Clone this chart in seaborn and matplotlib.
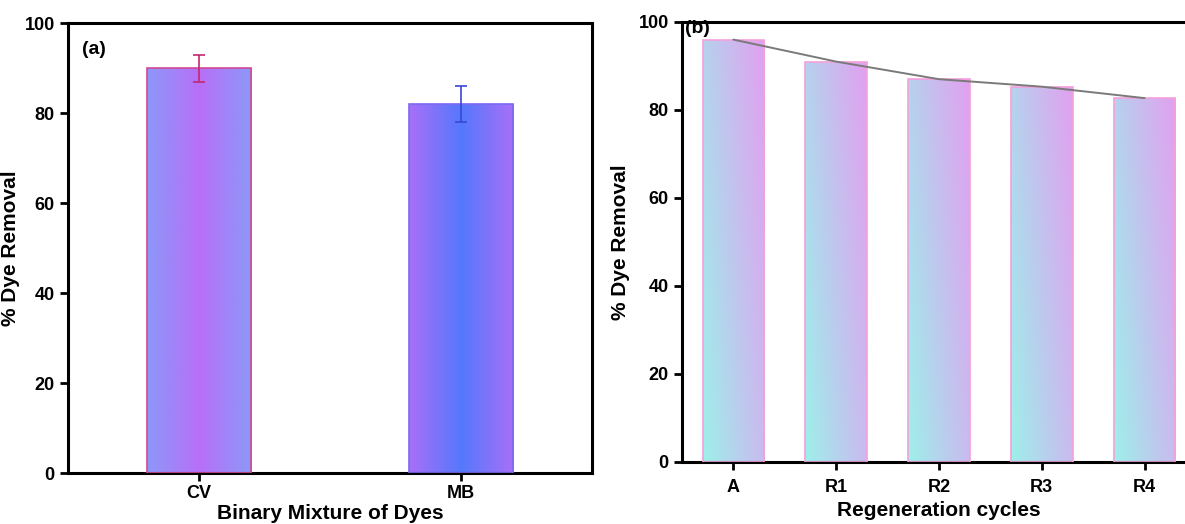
import numpy as np
import matplotlib
matplotlib.use('Agg')
import matplotlib.pyplot as plt
import seaborn as sns
from matplotlib.colors import LinearSegmentedColormap

# ---- data ----
dyes = ['CV', 'MB']
dye_removal = [90, 82]
dye_err = [3, 4]

cycles = ['A', 'R1', 'R2', 'R3', 'R4']
cycle_removal = [96, 91, 87, 85.3, 82.7]

y_ticks = [0, 20, 40, 60, 80, 100]

sns.set_theme(style='white')
plt.rcParams['font.family'] = ['Liberation Sans', 'DejaVu Sans']
plt.rcParams['font.weight'] = 'bold'
plt.rcParams['axes.labelweight'] = 'bold'
plt.rcParams['text.color'] = 'black'
plt.rcParams['axes.labelcolor'] = 'black'

W, H = 1185, 524
fig = plt.figure(figsize=(W / 100, H / 100), dpi=100)
ax1 = fig.add_axes([68 / W, 1 - 473 / H, (592 - 68) / W, (473 - 23) / H])
ax2 = fig.add_axes([682 / W, 1 - 462 / H, (1196 - 682) / W, (462 - 22) / H])

# ---- panel (a) ----
sns.barplot(x=dyes, y=dye_removal, ax=ax1, width=0.4, color='white',
            edgecolor='none', linewidth=1.2, errorbar=None)
a_edge = ['#d04a94', '#7a6af2']
a_cmaps = [LinearSegmentedColormap.from_list('cv', ['#8c98f8', '#b86ff8']),
           LinearSegmentedColormap.from_list('mb', ['#a870f8', '#5578fc'])]
u = np.linspace(0, 1, 256)
prof = (1 - np.abs(2 * u - 1))[None, :]
for p, cm, ec in zip(ax1.patches, a_cmaps, a_edge):
    x0, y0, w, h = p.get_x(), p.get_y(), p.get_width(), p.get_height()
    p.set_facecolor('none')
    p.set_edgecolor(ec)
    p.set_zorder(3)
    im = ax1.imshow(prof, extent=[x0, x0 + w, y0, y0 + h], origin='lower',
                    aspect='auto', cmap=cm, vmin=0, vmax=1, zorder=2,
                    interpolation='bilinear')
    im.set_clip_path(p)
err_cols = ['#c4286e', '#3a48d8']
for i, (v, e, c) in enumerate(zip(dye_removal, dye_err, err_cols)):
    ax1.errorbar(i, v, yerr=e, color=c, capsize=4, capthick=1.2, elinewidth=1.2, zorder=4)

ax1.set_xlim(-0.5, 1.5)
ax1.set_ylim(0, 100)
ax1.set_yticks(y_ticks)
ax1.set_xlabel('Binary Mixture of Dyes', fontsize=15, labelpad=1)
ax1.set_ylabel('% Dye Removal', fontsize=15, labelpad=3)
ax1.text(-0.445, 94, '(a)', fontsize=14, fontweight='bold', ha='left', va='center')
for s in ax1.spines.values():
    s.set_visible(True)
    s.set_linewidth(2.2)
    s.set_color('black')

# ---- panel (b) ----
sns.barplot(x=cycles, y=cycle_removal, ax=ax2, width=0.6, color='white',
            edgecolor='none', linewidth=1.2, errorbar=None)
b_cmap = LinearSegmentedColormap.from_list('bb', ['#9ef0ea', '#c0c6ee', '#e2a0f0'])
U, V = np.meshgrid(np.linspace(0, 1, 128), np.linspace(0, 1, 128))
grad = 0.65 * U + 0.35 * V
for p in ax2.patches:
    x0, y0, w, h = p.get_x(), p.get_y(), p.get_width(), p.get_height()
    p.set_facecolor('none')
    p.set_edgecolor('#f4a0dc')
    p.set_zorder(3)
    im = ax2.imshow(grad, extent=[x0, x0 + w, y0, y0 + h], origin='lower',
                    aspect='auto', cmap=b_cmap, vmin=0, vmax=1, zorder=2,
                    interpolation='bilinear')
    im.set_clip_path(p)
sns.lineplot(x=list(range(len(cycles))), y=cycle_removal, ax=ax2, color='#7a7a7a',
             linewidth=1.4, zorder=5)

ax2.set_xlim(-0.5, 4.5)
ax2.set_ylim(0, 100)
ax2.set_yticks(y_ticks)
ax2.set_xticks(range(len(cycles)))
ax2.set_xticklabels(cycles)
ax2.set_xlabel('Regeneration cycles', fontsize=15, labelpad=4)
ax2.set_ylabel('% Dye Removal', fontsize=15, labelpad=6)
ax2.text(-0.47, 98.5, '(b)', fontsize=14, fontweight='bold', ha='left', va='center')
for k, s in ax2.spines.items():
    s.set_visible(k != 'right')
    s.set_linewidth(2.2)
    s.set_color('black')

for ax, pad in ((ax1, 3), (ax2, 6)):
    ax.tick_params(axis='both', which='both', bottom=True, left=True, top=False, right=False,
                   direction='out', length=6, width=2, color='black',
                   labelsize=13, labelcolor='black')
    ax.tick_params(axis='x', pad=pad)
    for lab in ax.get_xticklabels() + ax.get_yticklabels():
        lab.set_fontweight('bold')
    ax.set_facecolor('white')

fig.savefig('out.png', dpi=100, facecolor='white')
